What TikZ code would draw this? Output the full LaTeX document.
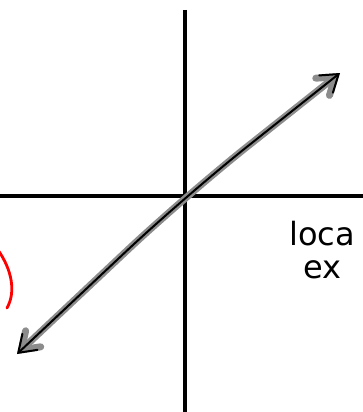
\documentclass[tikz,border=0pt]{standalone}
\usepackage{fontspec}
\setsansfont{DejaVu Sans}
\usetikzlibrary{arrows.meta, positioning}

\begin{document}
\begin{tikzpicture}[x=1pt, y=-1pt, >={Straight Barb[length=16pt, width=22pt, line cap=round]},
  axis/.style={line width=3.5pt, black},
  halo/.style={line width=7pt, black!45, line cap=round, rounded corners=80pt},
  pen/.style={line width=2pt, black, line cap=round, rounded corners=80pt},
  hand/.style={font=\sffamily\fontsize{32}{32}\selectfont, inner sep=0pt, text=black}]
  \useasboundingbox (0,0) rectangle (363,412);
  % axes
  \coordinate (top) at (185,10);
  \coordinate (bottom) at (185,412);
  \coordinate (left) at (0,196);
  \coordinate (right) at (363,196);
  \draw[axis] (top) -- (bottom);
  \draw[axis] (left) -- (right);
  % double arrow through the origin
  \coordinate (tip1) at (17,354);
  \coordinate (o) at (185,196);
  \coordinate (tip2) at (340,73);
  \draw[halo, <->] (tip1) -- (o) -- (tip2);
  \draw[pen, <->] (tip1) -- (o) -- (tip2);
  % red stroke
  \coordinate (r0) at (-2,250);
  \coordinate (r1) at (7,308);
  \draw[red, line width=2.8pt, line cap=round] (r0) .. controls (12,270) and (16,292) .. (r1);
  % label
  \node[hand, anchor=base west] (loca) at (289,245) {loca};
  \node[hand, anchor=north west] (ex) at (303,260) {ex};
\end{tikzpicture}
\end{document}
